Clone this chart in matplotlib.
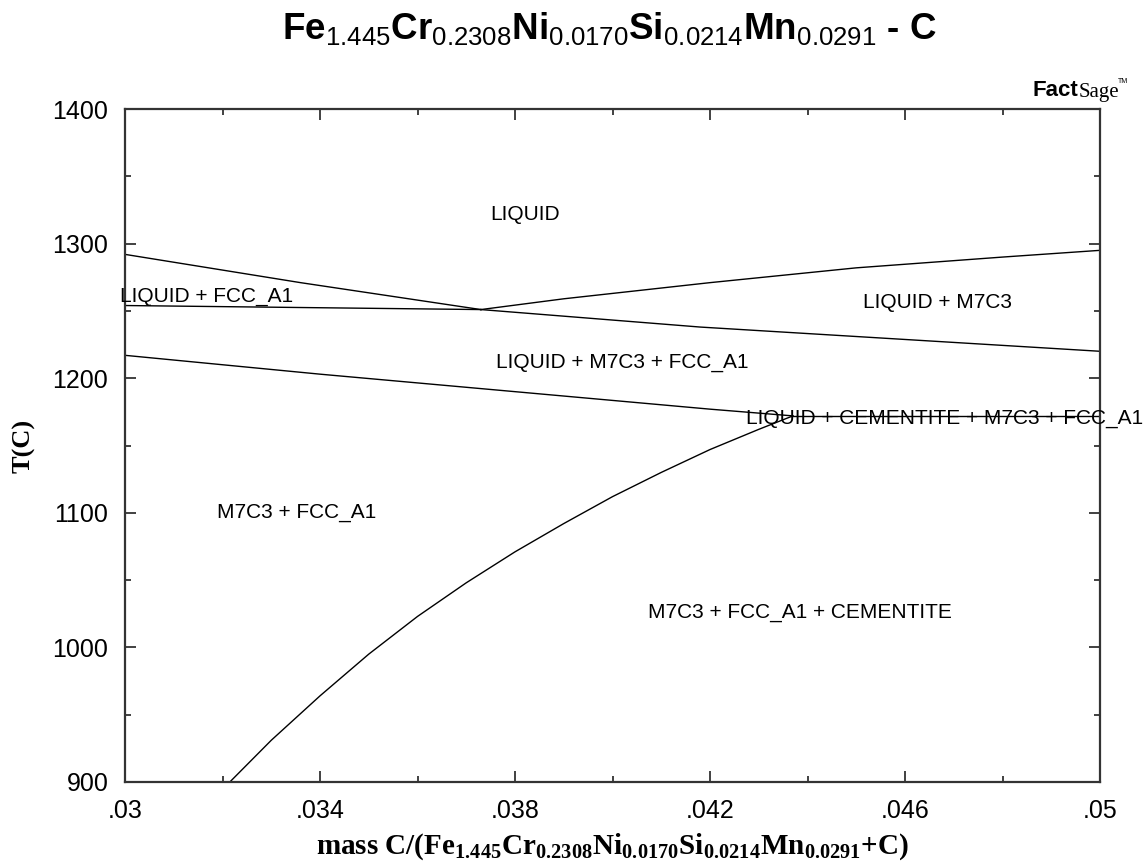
import matplotlib
matplotlib.use("Agg")
import matplotlib.pyplot as plt
from matplotlib.ticker import FixedLocator, MultipleLocator

plt.rcParams['mathtext.fontset'] = 'custom'
plt.rcParams['mathtext.rm'] = 'Liberation Sans'
plt.rcParams['mathtext.bf'] = 'Liberation Sans:bold'
plt.rcParams['mathtext.sf'] = 'Liberation Serif:bold'

# phase boundaries (mass fraction C, T in C)
liq_fcc_x = [0.030, 0.0336, 0.0373]
liq_fcc_t = [1292, 1271, 1251]
flat_left_x = [0.030, 0.0373]
flat_left_t = [1254, 1251]
liq_m7c3_x = [0.0373, 0.039, 0.042, 0.045, 0.048, 0.050]
liq_m7c3_t = [1251, 1259, 1271, 1282, 1290, 1295]
m7c3_fcc_x = [0.0373, 0.0418, 0.050]
m7c3_fcc_t = [1251, 1238, 1220]
lower_liq_x = [0.030, 0.034, 0.038, 0.042, 0.0437]
lower_liq_t = [1217, 1203, 1190, 1177, 1172]
eut_x = [0.0437, 0.050]
eut_t = [1172, 1172]
cem_x = [0.03215, 0.033, 0.034, 0.035, 0.036, 0.037, 0.038,
         0.039, 0.040, 0.041, 0.042, 0.043, 0.0437]
cem_t = [900, 931, 964, 995, 1023, 1048, 1071,
         1092, 1112, 1130, 1147, 1162, 1172]

labels = ["LIQUID", "LIQUID + FCC_A1", "LIQUID + M7C3", "LIQUID + M7C3 + FCC_A1",
          "LIQUID + CEMENTITE + M7C3 + FCC_A1", "M7C3 + FCC_A1",
          "M7C3 + FCC_A1 + CEMENTITE"]
label_x = [0.0382, 0.0299, 0.04666, 0.0402, 0.04274, 0.03353, 0.04385]
label_t = [1322, 1261, 1256, 1212, 1170, 1100, 1026]
label_ha = ["center", "left", "center", "center", "left", "center", "center"]

x_ticks = [0.030, 0.034, 0.038, 0.042, 0.046, 0.050]
x_ticklabels = [".03", ".034", ".038", ".042", ".046", ".05"]
x_minor = [0.032, 0.036, 0.040, 0.044, 0.048]

fig = plt.figure(figsize=(11.45, 8.68), dpi=100)
ax = fig.add_axes([0.1092, 0.0991, 0.8515, 0.7753])

for xs, ts in [(liq_fcc_x, liq_fcc_t), (flat_left_x, flat_left_t),
               (liq_m7c3_x, liq_m7c3_t), (m7c3_fcc_x, m7c3_fcc_t),
               (lower_liq_x, lower_liq_t), (eut_x, eut_t), (cem_x, cem_t)]:
    ax.plot(xs, ts, color='black', lw=1.0)

for txt, x, t, ha in zip(labels, label_x, label_t, label_ha):
    ax.text(x, t, txt, ha=ha, va='center', fontsize=15,
            family='Liberation Sans', clip_on=False)

ax.set_xlim(0.03, 0.05)
ax.set_ylim(900, 1400)
ax.set_xticks(x_ticks)
ax.set_xticklabels(x_ticklabels)
ax.xaxis.set_minor_locator(FixedLocator(x_minor))
ax.yaxis.set_major_locator(MultipleLocator(100))
ax.yaxis.set_minor_locator(MultipleLocator(50))
ax.tick_params(which='both', direction='in', top=True, right=True, color='#333333')
ax.tick_params(which='major', length=8, width=1.3, labelsize=18, pad=12)
ax.tick_params(which='minor', length=4, width=1.3)
for lab in ax.get_xticklabels() + ax.get_yticklabels():
    lab.set_family('Liberation Sans')
for s in ax.spines.values():
    s.set_linewidth(1.6)
    s.set_color('#333333')

ax.set_xlabel(r'mass C/(Fe$_{\mathsf{1.445}}$Cr$_{\mathsf{0.2308}}$Ni$_{\mathsf{0.0170}}$'
              r'Si$_{\mathsf{0.0214}}$Mn$_{\mathsf{0.0291}}$+C)',
              family='Liberation Serif', weight='bold', fontsize=21, labelpad=6)
ax.set_ylabel('T(C)', family='Liberation Serif', weight='bold', fontsize=19, labelpad=12)

fig.text(0.532, 0.954,
         r'Fe$_{\mathrm{1.445}}$Cr$_{\mathrm{0.2308}}$Ni$_{\mathrm{0.0170}}$'
         r'Si$_{\mathrm{0.0214}}$Mn$_{\mathrm{0.0291}}$ - C',
         ha='center', va='baseline', fontsize=26.5, family='Liberation Sans', weight='bold')

# FactSage logo
fig.text(0.942, 0.896, 'Fact', ha='right', va='center', fontsize=16,
         family='Liberation Sans', weight='bold')
fig.text(0.942, 0.893, 'Sage', ha='left', va='center', fontsize=15,
         family='Liberation Serif')
fig.text(0.976, 0.906, 'TM', ha='left', va='center', fontsize=5,
         family='Liberation Sans')

fig.savefig('out.png', dpi=100)
